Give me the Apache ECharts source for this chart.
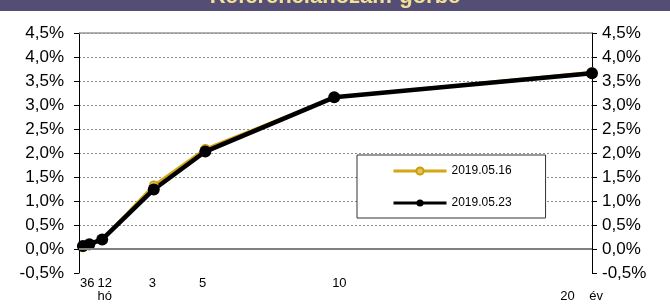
<!DOCTYPE html>
<html>
<head>
<meta charset="utf-8">
<script src="https://cdn.jsdelivr.net/npm/echarts@6/dist/echarts.min.js"></script>
<style>
  html, body { margin: 0; padding: 0; background: #fff; }
  #main { width: 670px; height: 305px; }
</style>
</head>
<body>
<div id="main"></div>
<script>
var myChart = echarts.init(document.getElementById('main'));

// futamidő (év)
var maturities = [0.25, 0.5, 1, 3, 5, 10, 20];
// hozamok (%)
var yield0516 = [0.03, 0.07, 0.2, 1.33, 2.09, 3.16, 3.69];
var yield0523 = [0.06, 0.1, 0.2, 1.24, 2.03, 3.16, 3.66];
var seriesNames = ['2019.05.16', '2019.05.23'];

// x tengely feliratai
var xLabelPos = [0.42, 1.1, 2.95, 4.9, 10.2, 19.6];
var xLabelText = ['36', '12\nhó', '3', '5', '10', '\n20    év'];

var fontFamily = 'Liberation Sans, Arial, sans-serif';

function pct(v) {
    return v.toFixed(1).replace('.', ',') + '%';
}

var yAxisBase = {
    type: 'value',
    min: -0.5,
    max: 4.5,
    interval: 0.5,
    axisLine: { show: true, lineStyle: { color: '#000', width: 1 } },
    axisTick: { show: true, length: 5, lineStyle: { color: '#000' } },
    axisLabel: {
        color: '#000',
        fontSize: 17,
        fontFamily: fontFamily,
        formatter: pct
    }
};

var option = {
    textStyle: { fontFamily: fontFamily },
    graphic: [
        {
            type: 'rect',
            z: 0,
            shape: { x: 0, y: 0, width: 670, height: 11 },
            style: { fill: '#544e74' }
        }
    ],
    // cím
    title: {
        text: 'Referenciahozam-görbe',
        left: 'center',
        top: -14,
        padding: 0,
        z: 10,
        textStyle: {
            color: '#f3e094',
            fontSize: 22,
            fontWeight: 'bold',
            fontFamily: fontFamily
        }
    },
    legend: {
        data: seriesNames,
        orient: 'vertical',
        left: 357,
        top: 155,
        padding: [10, 34, 9, 35],
        itemWidth: 53,
        itemHeight: 9,
        itemGap: 20,
        backgroundColor: '#fff',
        borderColor: '#333',
        borderWidth: 1,
        lineStyle: { width: 3 },
        textStyle: { color: '#000', fontSize: 12 }
    },
    grid: {
        left: 79,
        right: 78,
        top: 33,
        bottom: 32
    },
    xAxis: {
        type: 'value',
        min: 0.1,
        max: 20,
        axisLine: { show: false },
        axisTick: { show: false },
        splitLine: { show: false },
        axisLabel: {
            customValues: xLabelPos,
            margin: 4,
            color: '#000',
            fontSize: 13,
            lineHeight: 13,
            formatter: function (value) {
                var i = xLabelPos.indexOf(value);
                return i >= 0 ? xLabelText[i] : '';
            }
        }
    },
    yAxis: [
        Object.assign({}, yAxisBase, {
            position: 'left',
            axisLabel: Object.assign({}, yAxisBase.axisLabel, { margin: 15 }),
            splitLine: {
                show: true,
                showMinLine: false,
                lineStyle: { color: '#8c8c8c', type: [2, 2], width: 1 }
            }
        }),
        Object.assign({}, yAxisBase, {
            position: 'right',
            axisLabel: Object.assign({}, yAxisBase.axisLabel, { margin: 10 }),
            splitLine: { show: false }
        })
    ],
    series: [
        {
            name: seriesNames[0],
            type: 'line',
            data: maturities.map(function (t, i) { return [t, yield0516[i]]; }),
            symbol: 'circle',
            symbolSize: 8,
            color: '#d4a514',
            lineStyle: { color: '#d4a514', width: 2.5 },
            itemStyle: { color: '#e3c45a', borderColor: '#c99e0c', borderWidth: 1.5 },
            markLine: {
                silent: true,
                symbol: 'none',
                label: { show: false },
                data: [
                    { yAxis: 0, lineStyle: { color: '#7f7f7f', type: 'solid', width: 2 } },
                    { yAxis: 4.5, lineStyle: { color: '#999', type: 'solid', width: 1.5 } }
                ]
            }
        },
        {
            name: seriesNames[1],
            type: 'line',
            data: maturities.map(function (t, i) { return [t, yield0523[i]]; }),
            symbol: 'circle',
            symbolSize: 12,
            color: '#000',
            lineStyle: { color: '#000', width: 4.5 },
            itemStyle: { color: '#000' }
        }
    ]
};

myChart.setOption(option);
</script>
</body>
</html>
